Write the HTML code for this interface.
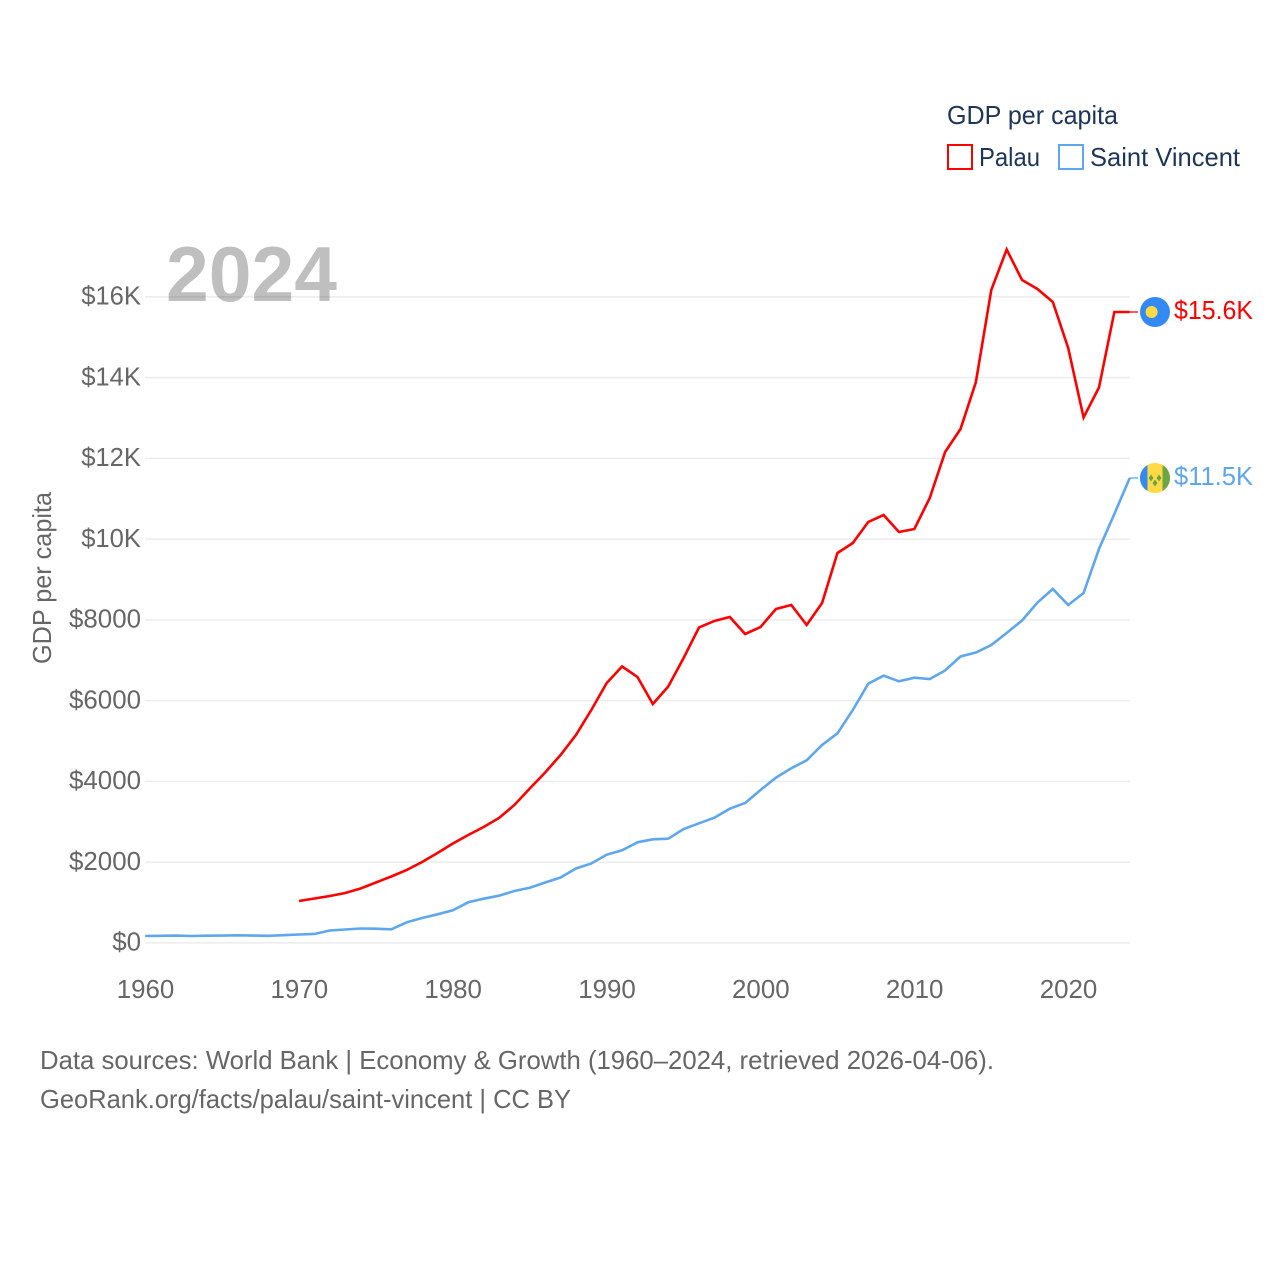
<!DOCTYPE html>
<html lang="en">
<head>
<meta charset="utf-8">
<title>GDP per capita: Palau and Saint Vincent</title>
<style>
  html, body { margin: 0; padding: 0; background: #fff; }
  body { width: 1280px; height: 1280px; overflow: hidden; }
  svg { display: block; }
  text { font-family: "Liberation Sans", sans-serif; font-size: 26px; fill: #666; }
  .legend-text { fill: #1d3557; }
</style>
</head>
<body>
<svg id="chart" xmlns="http://www.w3.org/2000/svg" width="1280" height="1280" viewBox="0 0 1280 1280">
  <rect x="0" y="0" width="1280" height="1280" fill="#ffffff"/>

  <g id="grid"></g>
  <g id="y-ticks"></g>
  <g id="x-ticks"></g>

  <text x="166" y="301" textLength="171" lengthAdjust="spacingAndGlyphs" style="font-size:78px;font-weight:700;fill:#000;fill-opacity:0.25">2024</text>

  <text transform="translate(51 578) rotate(-90)" text-anchor="middle" textLength="172" lengthAdjust="spacingAndGlyphs">GDP per capita</text>

  <g id="series"></g>
  <g id="end-labels"></g>

  <g>
    <text class="legend-text" x="947" y="124" textLength="171" lengthAdjust="spacingAndGlyphs">GDP per capita</text>
    <g>
      <rect x="948" y="145" width="24" height="24" fill="#ffffff" stroke="#ff0000" stroke-width="2"/>
      <text class="legend-text" x="979" y="166" textLength="61" lengthAdjust="spacingAndGlyphs">Palau</text>
    </g>
    <g>
      <rect x="1059" y="145" width="24" height="24" fill="#ffffff" stroke="#5ea7ee" stroke-width="2"/>
      <text class="legend-text" x="1090" y="166" textLength="150" lengthAdjust="spacingAndGlyphs">Saint Vincent</text>
    </g>
  </g>

  <text x="40" y="1069" textLength="954" lengthAdjust="spacingAndGlyphs">Data sources: World Bank | Economy &amp; Growth (1960–2024, retrieved 2026-04-06).</text>
  <text x="40" y="1108" textLength="531" lengthAdjust="spacingAndGlyphs">GeoRank.org/facts/palau/saint-vincent | CC BY</text>
</svg>

<script>
const years = [1960,1961,1962,1963,1964,1965,1966,1967,1968,1969,
  1970,1971,1972,1973,1974,1975,1976,1977,1978,1979,
  1980,1981,1982,1983,1984,1985,1986,1987,1988,1989,
  1990,1991,1992,1993,1994,1995,1996,1997,1998,1999,
  2000,2001,2002,2003,2004,2005,2006,2007,2008,2009,
  2010,2011,2012,2013,2014,2015,2016,2017,2018,2019,
  2020,2021,2022,2023,2024];
const palauValues = [null,null,null,null,null,null,null,null,null,null,
  1028,1090,1152,1226,1337,1486,1635,1796,1994,2217,
  2452,2663,2861,3084,3406,3814,4211,4644,5139,5759,
  6427,6836,6576,5907,6341,7047,7802,7963,8062,7641,
  7814,8260,8359,7864,8409,9647,9895,10415,10588,10167,
  10242,11009,12149,12718,13882,16161,17164,16409,16186,15864,
  14724,13003,13746,15616,15616];
const saintVincentValues = [161,166,173,161,168,173,178,173,166,181,
  198,211,297,322,347,342,327,500,607,698,
  797,996,1085,1159,1276,1357,1486,1610,1833,1957,
  2175,2284,2482,2556,2571,2811,2952,3091,3314,3455,
  3777,4082,4315,4513,4892,5181,5759,6410,6608,6469,
  6559,6526,6737,7084,7183,7368,7666,7975,8421,8756,
  8359,8656,9746,10613,11505];
const yTickValues = [0,2000,4000,6000,8000,10000,12000,14000,16000];
const yTickLabels = ["$0","$2000","$4000","$6000","$8000","$10K","$12K","$14K","$16K"];
const xTickValues = [1960,1970,1980,1990,2000,2010,2020];
const xTickLabels = ["1960","1970","1980","1990","2000","2010","2020"];
const palauEndLabel = "$15.6K";
const saintVincentEndLabel = "$11.5K";

const NS = "http://www.w3.org/2000/svg";
const xScale = function (year) { return 145.2 + (year - 1960) * (923 / 60); };
const yScale = function (value) { return 942.5 - value * (646 / 16000); };

function make(tag, parent, attrs) {
  const el = document.createElementNS(NS, tag);
  Object.keys(attrs).forEach(function (k) { el.setAttribute(k, attrs[k]); });
  parent.appendChild(el);
  return el;
}
function labelWidth(str) {
  let w = 0;
  for (const ch of str) {
    if (ch === "K") w += 16.6;
    else if (ch === ".") w += 6.6;
    else w += 14.4;
  }
  return w;
}
function linePath(values) {
  let d = "";
  let open = false;
  values.forEach(function (v, i) {
    if (v === null) { open = false; return; }
    d += (open ? "L" : "M") + xScale(years[i]).toFixed(2) + " " + yScale(v).toFixed(2);
    open = true;
  });
  return d;
}

const gridGroup = document.getElementById("grid");
const yGroup = document.getElementById("y-ticks");
yTickValues.forEach(function (v, i) {
  const line = make("line", gridGroup, { x1: 145, x2: 1130, y1: yScale(v) + 0.4, y2: yScale(v) + 0.4, stroke: "#ececec", "stroke-width": 1.5 });
  
  
  const t = make("text", yGroup, { x: 141, y: yScale(v) + 8, "text-anchor": "end", textLength: labelWidth(yTickLabels[i]), lengthAdjust: "spacingAndGlyphs" });
  t.textContent = yTickLabels[i];
  
  
});

const xGroup = document.getElementById("x-ticks");
xTickValues.forEach(function (yr, i) {
  const t = make("text", xGroup, { x: xScale(yr) + 0.3, y: 998, "text-anchor": "middle", textLength: labelWidth(xTickLabels[i]), lengthAdjust: "spacingAndGlyphs" });
  t.textContent = xTickLabels[i];
  
  
});

const seriesGroup = document.getElementById("series");
const palauLine = make("path", seriesGroup, { d: linePath(palauValues), fill: "none", stroke: "#ff0000", "stroke-width": 2.6, "stroke-linejoin": "miter" });


const svLine = make("path", seriesGroup, { d: linePath(saintVincentValues), fill: "none", stroke: "#5ea7ee", "stroke-width": 2.6, "stroke-linejoin": "miter" });



const endGroup = document.getElementById("end-labels");
const endX = xScale(years[years.length - 1]);
const palauY = yScale(palauValues[palauValues.length - 1]);
const svY = yScale(saintVincentValues[saintVincentValues.length - 1]);
const flagX = 1155;

const palauConnector = make("line", endGroup, { x1: endX, x2: 1138, y1: palauY, y2: palauY, stroke: "#ff0000", "stroke-width": 1.3 });


const svConnector = make("line", endGroup, { x1: endX, x2: 1138, y1: svY, y2: svY, stroke: "#5ea7ee", "stroke-width": 1.3 });



// Palau flag
const palauFlag = make("g", endGroup, { transform: "translate(" + flagX + " " + palauY + ")" });


make("circle", palauFlag, { cx: 0, cy: 0, r: 15, fill: "#338af3" });
make("circle", palauFlag, { cx: -3.4, cy: 0, r: 6, fill: "#ffda44" });

const palauText = make("text", endGroup, { x: 1174, y: palauY + 7, textLength: 79, lengthAdjust: "spacingAndGlyphs", style: "fill:#ff0000" });
palauText.textContent = palauEndLabel;



// Saint Vincent flag
const svFlag = make("g", endGroup, { transform: "translate(" + flagX + " " + svY + ")" });


make("circle", svFlag, { cx: 0, cy: 0, r: 15, fill: "#ffda44" });
make("path", svFlag, { d: "M-7.5 -13A15 15 0 0 0 -7.5 13Z", fill: "#338af3" });
make("path", svFlag, { d: "M7.5 -13A15 15 0 0 1 7.5 13Z", fill: "#6da544" });
make("path", svFlag, { d: "M-4 -3.5L-1.5 0L-4 3.5L-6.5 0Z", fill: "#6da544" });
make("path", svFlag, { d: "M4 -3.5L6.5 0L4 3.5L1.5 0Z", fill: "#6da544" });
make("path", svFlag, { d: "M0 1.5L2.5 5L0 8.5L-2.5 5Z", fill: "#6da544" });

const svText = make("text", endGroup, { x: 1174, y: svY + 7, textLength: 79, lengthAdjust: "spacingAndGlyphs", style: "fill:#5ea7ee" });
svText.textContent = saintVincentEndLabel;


</script>
</body>
</html>
